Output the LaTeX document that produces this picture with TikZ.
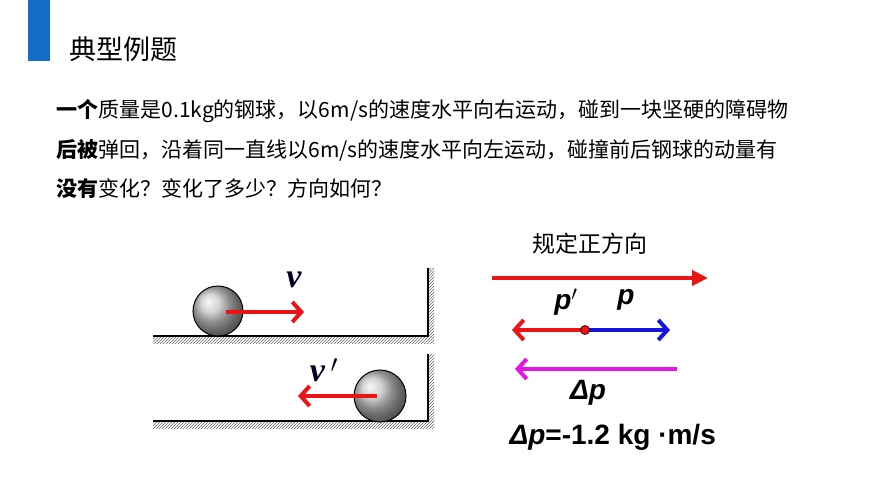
\documentclass[tikz,border=0pt]{standalone}
\usepackage{fontspec}
\setmainfont{Liberation Sans}
\newfontfamily\cjk{Noto Sans CJK SC}
\newfontfamily\serifv{Liberation Serif}
\usetikzlibrary{arrows.meta,patterns}
\definecolor{slideBlue}{RGB}{18,110,200}
\definecolor{arrowRed}{RGB}{235,20,20}
\definecolor{arrowBlue}{RGB}{20,20,225}
\definecolor{arrowPink}{RGB}{230,20,230}

\tikzset{
    velarrow/.style={line width=4pt, -{Straight Barb[length=9pt,width=20pt,line width=4pt]}},
    hatch/.style={pattern=north east lines, pattern color=gray!80!black},
    ball/.style={draw=black, line width=1pt, ball color=gray!45},
    veclabel/.style={font=\bfseries\itshape\fontsize{28}{28}\selectfont},
}

\begin{document}
\begin{tikzpicture}[x=1pt,y=-1pt]
    \useasboundingbox (0,0) rectangle (870,489);
    \fill[slideBlue] (28,0) rectangle (50,61);
    \node[anchor=west, font=\cjk\fontsize{27}{27}\selectfont] (title) at (66,49) {典型例题};

    % problem text
    \begin{scope}[every node/.style={anchor=west, font=\cjk\fontsize{21}{21}\selectfont}]
        \node (line1) at (53,111) {\textbf{一个}质量是0.1kg的钢球，以6m/s的速度水平向右运动，碰到一块坚硬的障碍物};
        \node (line2) at (53,150) {\textbf{后被}弹回，沿着同一直线以6m/s的速度水平向左运动，碰撞前后钢球的动量有};
        \node (line3) at (53,189) {\textbf{没有}变化？变化了多少？方向如何？};
    \end{scope}

    % floors and walls
    \fill[hatch] (153,336) rectangle (434,343);
    \fill[hatch] (428,268) rectangle (434,336);
    \draw[line width=1.2pt] (153,336) -- (428,336) -- (428,268);
    \fill[hatch] (153,421) rectangle (434,428);
    \fill[hatch] (428,354) rectangle (434,421);
    \draw[line width=1.2pt] (153,421) -- (428,421) -- (428,354);

    % balls
    \shade[ball] (218,311) circle (25);
    \shade[ball] (380,396) circle (26);
    \coordinate (v1s) at (226,312);
    \coordinate (v1e) at (304,312);
    \coordinate (v2s) at (377,396);
    \coordinate (v2e) at (298,396);
    \draw[velarrow, arrowRed] (v1s) -- (v1e);
    \draw[velarrow, arrowRed] (v2s) -- (v2e);
    \node[font=\serifv\bfseries\itshape\fontsize{34}{34}\selectfont, text=black!85!blue] (v) at (294,280) {v};
    \node[font=\serifv\bfseries\itshape\fontsize{34}{34}\selectfont, text=black!85!blue] (vp) at (324,370) {v\,$'$};

    % momentum diagram
    \node[font=\cjk\fontsize{23}{23}\selectfont] (posdir) at (590,244) {规定正方向};
    \coordinate (pos1) at (492,278);
    \coordinate (pos2) at (708,278);
    \draw[line width=4pt, arrowRed, -{Triangle[length=16pt,width=15pt]}] (pos1) -- (pos2);

    \coordinate (origin) at (585,330);
    \coordinate (pend) at (670,330);
    \coordinate (ppend) at (512,330);
    \draw[velarrow, arrowRed] (origin) -- (ppend);
    \draw[velarrow, arrowBlue] (origin) -- (pend);
    \fill[arrowRed, draw=black!70!red, line width=0.8pt] (origin) circle (4.5);
    \node[veclabel] (pp) at (566,302) {p$'$};
    \node[veclabel] (p) at (626,300) {p};

    \coordinate (dp1) at (677,369);
    \coordinate (dp2) at (515,369);
    \draw[velarrow, arrowPink] (dp1) -- (dp2);
    \node[veclabel] (dp) at (588,393) {Δp};
    \node[font=\bfseries\fontsize{28}{28}\selectfont, anchor=west] (result) at (506,437) {\textit{Δp}=-1.2 kg ·m/s};
\end{tikzpicture}
\end{document}
